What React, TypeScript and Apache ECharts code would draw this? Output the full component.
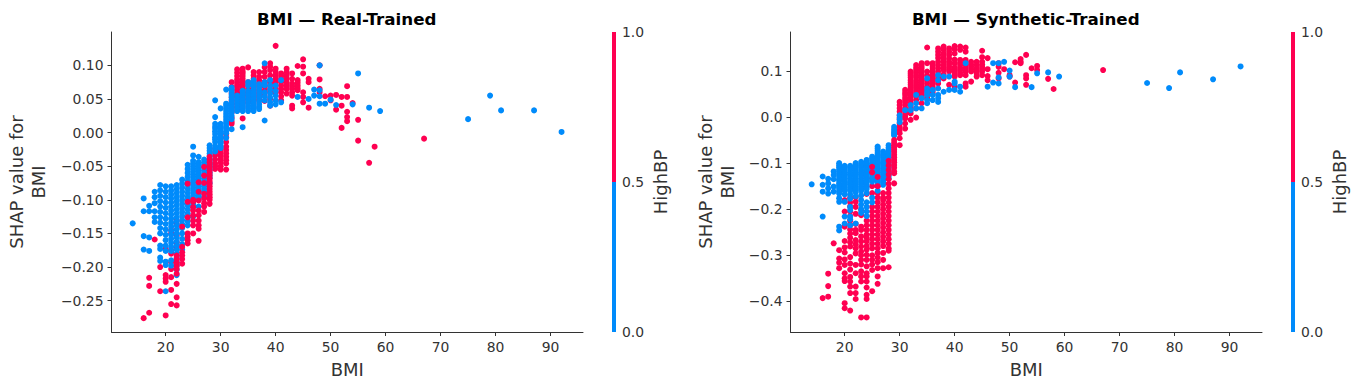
import React, { useEffect, useRef } from "react";
import * as echarts from "echarts";

type Col = [number, number[]];

// SHAP values in thousandths, one row per BMI value: [BMI, values]
const realRedBack: Col[] = [
  [16, [-276]], [17, [-216, -228, -268]], [18, [-159]], [19, [-200, -236]],
  [20, [-173, -212, -217, -222, -272]],
  [21, [-145, -150, -175, -180, -193, -203, -215, -234, -255]],
  [22, [-131, -136, -153, -163, -170]],
  [29, [-24, -30, -34, -40, -46, -50, -54]],
  [30, [-9, -24, -29, -34, -39, -44, -50, -55]],
  [31, [-2, -7, -14, -21, -26, -31, -36, -41, -46, -55]],
  [32, [75, 68, 63, 58, 52, 47, 42, 37, 30, 22, 16, 13]],
  [33, [94, 89, 84, 79, 75, 71, 68, 64, 60, 56, 53, 48, 43, 38, 33]],
  [34, [95, 91, 88, 84, 80, 76, 73, 69, 65, 61, 58, 53, 48, 43, 38, 21]],
  [35, [97, 75, 70, 65, 60, 55, 50, 45]],
  [36, [90, 85, 80, 75, 70, 65, 60, 55, 50, 44, 38]],
  [37, [90, 83, 78, 73, 68, 63, 58, 53, 48]],
  [38, [97, 90, 83, 75, 68, 62, 55, 47]],
  [39, [103, 98, 93, 85, 78, 74, 70, 65, 60, 50, 40]],
  [40, [129, 95, 90, 85, 80, 75, 70, 65, 60]],
  [41, [88, 84, 80, 75, 70, 65, 60, 54, 48]],
  [42, [95, 90, 85, 80, 75, 70, 65, 58]],
  [43, [88, 80, 73, 69, 65, 60, 55, 36, 40]],
  [44, [99, 78, 74, 70, 66, 63]],
  [45, [109, 98, 88, 60, 53, 45]],
  [46, [80, 75, 37]],
  [48, [100, 79, 65, 60]],
  [49, [54]], [50, [55, 48]], [51, [56, 34]], [52, [53, 40, 7]],
  [53, [69, 53, 31, 23, 17]], [54, [44]], [55, [19, -12]],
  [57, [-45]], [58, [-21]], [67, [-9]],
];
const realBlue: Col[] = [
  [14, [-135]],
  [16, [-98, -117, -154, -174]],
  [17, [-109, -117, -156, -176]],
  [18, [-88, -96, -105, -117, -126, -133]],
  [19, [-78, -86, -94, -102, -110, -118, -126, -134, -142, -150, -168, -173, -186, -191]],
  [20, [-80, -88, -96, -104, -112, -120, -128, -136, -144, -152, -160, -168, -176, -192, -197, -236]],
  [21, [-80, -86, -92, -98, -104, -110, -116, -122, -128, -134, -140, -146, -152, -158, -164, -170, -176, -190, -198]],
  [22, [-78, -84, -90, -96, -102, -108, -114, -120, -126, -132, -138, -144, -150, -156, -162, -168, -174, -180, -186, -192, -198, -204, -212]],
  [23, [-70, -76, -82, -88, -94, -100, -106, -112, -118, -124, -130, -136, -142, -150, -158, -166, -174]],
  [24, [-48, -54, -60, -66, -72, -78, -84, -90, -96, -102, -108, -114, -120, -126, -132, -138]],
  [25, [-21, -34, -42, -46, -50, -54, -58, -62, -66, -70, -74, -78, -82, -86, -90, -94, -98, -102, -106, -110, -125]],
  [26, [-36, -44, -48, -52, -56, -60, -64, -68, -72, -76, -80, -84, -88, -92, -96, -100, -110]],
  [27, [-40, -44, -48, -52, -56, -60, -64, -68, -72, -76, -80, -84, -88, -95]],
  [28, [-19, -23, -27, -31, -35, -39, -43, -47, -51, -55, -59, -63, -67, -75]],
  [29, [48, 23, 13, 9, 6, 2, -2, -7, -10, -14, -20, -24, -28]],
  [30, [36, 13, 9, 6, 2, -2, -6, -9, -13, -16, -20, -23]],
  [31, [64, 43, 40, 36, 32, 28, 24, 20, 16, 13, 9, 6, 2, -1, -8]],
  [32, [67, 64, 60, 56, 53, 49, 45, 42, 38, 34, 30, 25, 20, 5]],
  [33, [55, 51, 48, 44, 40, 36, 32]],
  [34, [62, 58, 55, 51, 48, 44, 40, 36, 32, 8]],
  [35, [75, 70, 62, 58, 55, 51, 48, 44, 40, 36, 32]],
  [36, [78, 74, 70, 65, 60, 55, 50, 45, 40, 36, 32]],
  [37, [72, 67, 62, 57, 52, 47, 42, 38, 35]],
  [38, [103, 75, 70, 60, 54, 48, 18]],
  [39, [78, 70, 64, 58, 52, 45, 40]],
  [40, [70, 62, 55, 48, 42]],
  [41, [78, 45]],
  [44, [53]], [46, [50]], [47, [64, 55]], [48, [100, 63, 54, 43]],
  [49, [43]], [50, [49]], [51, [41]], [54, [42]], [55, [88]], [57, [37]], [59, [32]],
  [75, [20]], [79, [55]], [81, [33]], [87, [33]], [92, [1]],
];
const realRedFront: Col[] = [
  [22, [-183, -188, -193, -198, -203, -210, -225, -245, -257]],
  [23, [-140, -170, -178, -183, -188, -195]],
  [24, [-76, -103, -126, -150, -155, -160, -165]],
  [25, [-100, -103, -111, -116, -123, -131, -138, -150]],
  [26, [-74, -88, -101, -116, -123, -131, -138, -143, -161]],
  [27, [-51, -64, -75, -91, -98, -105, -110, -118]],
  [28, [-36, -40, -44, -48, -52, -56, -60, -64, -68, -72, -76, -80, -84, -88, -92, -96, -100, -106]],
];

const synthRedBack: Col[] = [
  [16, [-393]], [17, [-340, -367, -390]], [18, [-274]], [19, [-289, -307, -316, -328]],
  [20, [-180, -205, -238, -269, -283, -294, -309, -321, -339, -350, -356, -404, -415]],
  [21, [-175, -185, -194, -205, -215, -225, -234, -244, -253, -262, -272, -281, -304, -318, -331, -347, -357, -368, -382, -420]],
  [22, [-174, -184, -195, -210, -232, -245, -252, -267, -276, -285, -296, -321, -339, -368, -382, -395]],
  [23, [-202, -213, -238, -245, -259, -270, -281, -292, -300, -310, -320, -335, -346, -357, -435]],
  [24, [-167, -225, -235, -245, -255, -262, -270, -280, -288, -299, -310, -324, -339, -346, -357, -370, -386, -395, -435]],
  [25, [-133, -150, -165, -195, -205, -215, -225, -235, -245, -255, -265, -275, -285, -300, -310, -320, -332, -378]],
  [26, [-150, -165, -175, -185, -195, -205, -215, -225, -235, -245, -255, -265, -275, -285, -295, -305, -315, -328, -346, -362]],
  [27, [-165, -175, -180, -190, -200, -210, -220, -230, -240, -250, -260, -270, -280, -295, -310, -328]],
  [30, [33, 26, 19, 12, 4, -1, -6, -14, -21, -28, -35, -46, -61]],
  [31, [59, 53, 48, 42, 37, 32, 26, 19, 14, 8, 2, -3, -14, -25]],
  [32, [99, 95, 91, 86, 80, 75, 70, 65, 59, 54, 48, 43, 37, 30, 24, 15, 8, -6]],
  [33, [113, 107, 102, 97, 91, 86, 80, 75, 70, 66, 62, 57, 52, 45, 37, 19, -1]],
  [34, [117, 111, 106, 100, 95, 90, 84, 78, 73, 67, 62, 57, 52, 46, 41, 30]],
  [35, [151, 117, 99, 90, 80, 73, 66, 60, 55, 48, 41]],
  [36, [117, 111, 106, 100, 95, 90, 84, 78, 73, 67, 62, 57, 52]],
  [37, [149, 142, 135, 128, 120, 113, 106, 99, 91, 85, 80, 73]],
  [38, [153, 146, 138, 131, 125, 120, 113, 107, 102, 93, 84]],
  [39, [149, 142, 135, 127, 120, 115, 109, 104, 99, 70]],
  [40, [154, 147, 138, 125, 117, 108, 103, 99, 93, 88, 66]],
  [41, [153, 146, 124, 118, 113, 107, 102, 96, 91]],
  [42, [151, 142, 124, 118, 113, 106, 99, 91, 73, 66]],
  [43, [120, 114, 109, 104, 99, 77]],
  [44, [120, 113, 106, 100, 95, 88]],
  [45, [144, 130, 120, 114, 109, 104, 99, 91]],
  [46, [128, 104, 89, 80]],
  [48, [117, 109, 96, 84]],
  [49, [104]], [50, [91, 88]], [51, [119, 75]], [52, [126, 120, 117]],
  [53, [135, 91, 84, 70]], [54, [106]], [55, [111, 102]],
  [57, [83]], [58, [61]], [67, [102]],
];
const synthBlue: Col[] = [
  [14, [-146]],
  [16, [-129, -147, -162, -216]],
  [17, [-134, -144, -155, -166]],
  [18, [-118, -126, -135, -151, -162]],
  [19, [-100, -105, -109, -114, -118, -122, -126, -130, -135, -139, -144, -148, -152, -156, -161, -166, -176, -184, -238, -246]],
  [20, [-106, -110, -115, -120, -124, -128, -133, -138, -142, -146, -151, -156, -160, -168, -184, -216, -231]],
  [21, [-106, -110, -115, -120, -124, -128, -133, -138, -142, -146, -151, -156, -160, -168, -177, -195, -202, -216, -222, -235]],
  [22, [-100, -105, -109, -114, -118, -122, -127, -132, -136, -140, -145, -150, -154, -158, -163, -172, -231]],
  [23, [-97, -102, -106, -110, -115, -120, -124, -128, -133, -138, -142, -146, -151, -156, -160, -170, -180, -190, -200, -208]],
  [24, [-93, -98, -102, -106, -111, -116, -120, -124, -129, -134, -138, -142, -147, -152, -156, -165, -185, -195, -205, -215]],
  [25, [-86, -90, -95, -100, -104, -108, -113, -118, -122, -126, -131, -136, -140, -175, -185]],
  [26, [-64, -68, -73, -78, -82, -86, -91, -96, -100, -104, -109, -114, -118, -122, -127, -132, -136, -140, -145, -160]],
  [27, [-75, -80, -84, -88, -93, -98, -102, -106, -111, -116, -120, -124, -129, -134, -138, -142, -147]],
  [28, [-61, -66, -70, -74, -79, -84, -88, -92, -97, -102, -106, -110, -115, -120, -124, -128, -133]],
  [29, [-21, -26, -30, -34, -37, -40]],
  [30, [4, -4, -11]],
  [31, [15]], [32, [26, 15]], [33, [48, 30, 19]], [34, [41, 19]],
  [35, [84, 62, 55, 48, 37, 30]], [36, [59, 48, 37]],
  [37, [91, 80, 62, 48, 41, 33]], [38, [88, 55]], [39, [88, 59]],
  [40, [77, 73, 59]], [41, [66, 55]], [42, [117]], [46, [66]], [47, [117, 75]],
  [48, [117, 86, 73]], [49, [120]], [50, [101, 88]], [51, [65]], [54, [65]],
  [55, [95]], [57, [97]], [59, [88]],
  [75, [74]], [79, [63]], [81, [97]], [87, [82]], [92, [110]],
];
const synthRedFront: Col[] = [
  [25, [-108, -120]],
  [26, [-130, -150]],
  [28, [-95, -105, -115, -125, -135, -145, -155, -165, -175, -185, -195, -205, -215, -225, -235, -245, -255, -265, -275, -285, -290, -326]],
  [29, [-50, -56, -61, -66, -71, -76, -82, -87, -93, -98, -104, -110, -118, -122, -144]],
];

const xTicks = [20, 30, 40, 50, 60, 70, 80, 90];
const realYTicks = [-0.25, -0.2, -0.15, -0.1, -0.05, 0, 0.05, 0.1];
const synthYTicks = [-0.4, -0.3, -0.2, -0.1, 0, 0.1];
const colorbarTicks = ["1.0", "0.5", "0.0"];
const titles = ["BMI — Real-Trained", "BMI — Synthetic-Trained"];

const RED = "#ff0051";
const BLUE = "#008bfb";
const INK = "#333333";
const FONT = "DejaVu Sans";

const points = (cols: Col[]) => cols.flatMap(([x, ys]) => ys.map((y) => [x, y / 1000]));

const panels = [
  { left: 111.5, width: 471.5, xMin: 10.15, xMax: 95.9, yMin: -0.2966, yMax: 0.1496, yTicks: realYTicks, digits: 2, nameGap: 62, back: realRedBack, blue: realBlue, front: realRedFront, barX: 612 },
  { left: 790.5, width: 471.5, xMin: 10.15, xMax: 95.9, yMin: -0.4666, yMax: 0.1847, yTicks: synthYTicks, digits: 1, nameGap: 52, back: synthRedBack, blue: synthBlue, front: synthRedFront, barX: 1291 },
];

export default function App() {
  const ref = useRef<HTMLDivElement>(null);
  useEffect(() => {
    document.body.style.margin = "0";
    const chart = echarts.init(ref.current!, null, { renderer: "svg" });
    const line = { lineStyle: { color: INK, width: 1 } };
    const graphic: any[] = [];
    panels.forEach((p) => {
      graphic.push({ type: "rect", silent: true, shape: { x: p.barX, y: 32, width: 4, height: 150 }, style: { fill: RED } });
      graphic.push({ type: "rect", silent: true, shape: { x: p.barX, y: 182, width: 4, height: 150 }, style: { fill: BLUE } });
      colorbarTicks.forEach((t, i) => {
        graphic.push({
          type: "text", silent: true, x: p.barX + 10, y: 32 + i * 150,
          style: { text: t, fill: INK, font: `13.9px "${FONT}"`, verticalAlign: "middle", align: "left" },
        });
      });
      graphic.push({
        type: "text", silent: true, x: p.barX + 48, y: 182, rotation: Math.PI / 2,
        style: { text: "HighBP", fill: INK, font: `18px "${FONT}"`, align: "center", verticalAlign: "middle" },
      });
    });
    const sym = { type: "scatter" as const, symbolSize: 6, animation: false, silent: true };
    chart.setOption({
      animation: false,
      backgroundColor: "#ffffff",
      title: panels.map((p, i) => ({
        text: titles[i],
        left: p.left + p.width / 2 - 5.5,
        top: 5,
        textAlign: "center",
        textStyle: { fontFamily: FONT, fontSize: 16.7, fontWeight: "bold", color: "#000000" },
      })),
      grid: panels.map((p) => ({ left: p.left, top: 32, width: p.width, height: 300, outerBoundsMode: "none" })),
      xAxis: panels.map((p, i) => ({
        type: "value", gridIndex: i, min: p.xMin, max: p.xMax,
        name: "BMI", nameLocation: "middle", nameGap: 28,
        nameTextStyle: { fontFamily: FONT, fontSize: 18, color: INK },
        splitLine: { show: false },
        axisLine: { show: true, onZero: false, ...line },
        axisTick: { show: true, length: 4, customValues: xTicks, ...line },
        axisLabel: { customValues: xTicks, fontFamily: FONT, fontSize: 13.9, color: INK, margin: 8, formatter: (v: number) => String(v) },
      })),
      yAxis: panels.map((p, i) => ({
        type: "value", gridIndex: i, min: p.yMin, max: p.yMax,
        name: "SHAP value for\nBMI", nameLocation: "middle", nameRotate: 90, nameGap: p.nameGap,
        nameTextStyle: { fontFamily: FONT, fontSize: 18, color: INK, lineHeight: 22, align: "center" },
        splitLine: { show: false },
        axisLine: { show: true, onZero: false, ...line },
        axisTick: { show: true, length: 4, customValues: p.yTicks, ...line },
        axisLabel: {
          customValues: p.yTicks, fontFamily: FONT, fontSize: 13.9, color: INK, margin: 8,
          formatter: (v: number) => v.toFixed(p.digits).replace("-", "\u2212"),
        },
      })),
      series: panels.flatMap((p, i) => [
        { ...sym, xAxisIndex: i, yAxisIndex: i, data: points(p.back), itemStyle: { color: RED, opacity: 1 } },
        { ...sym, xAxisIndex: i, yAxisIndex: i, data: points(p.blue), itemStyle: { color: BLUE, opacity: 1 } },
        { ...sym, xAxisIndex: i, yAxisIndex: i, data: points(p.front), itemStyle: { color: RED, opacity: 1 } },
      ]),
      graphic,
    });
    return () => chart.dispose();
  }, []);
  return <div ref={ref} style={{ width: 1357, height: 390 }} />;
}
